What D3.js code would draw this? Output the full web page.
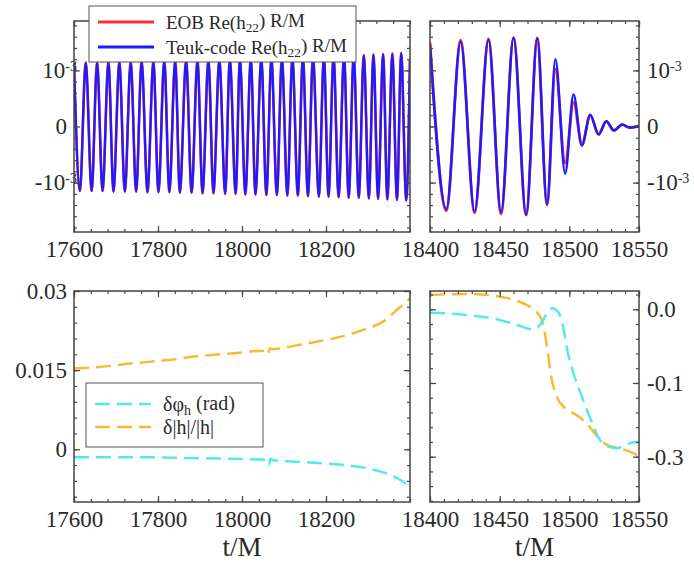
<!DOCTYPE html>
<html>
<head>
<meta charset="utf-8">
<script src="https://cdn.jsdelivr.net/npm/d3@7"></script>
<style>
body { margin: 0; background: #fff; }
svg text { font-family: "Liberation Serif", "Times New Roman", serif; fill: #2a2a2a; }
</style>
</head>
<body>
<script>
// ---- data ----
// inspiral: extrema of Re(h22) R/M, in units of 1e-3 (EOB and Teuk-code overlap here)
const inspiralT = [17600, 17614, 17628, 17642, 17655, 17668, 17682, 17694, 17708, 17721,
  17735, 17748, 17761, 17775, 17789, 17801, 17815, 17827, 17841, 17852,
  17867, 17880, 17894, 17906, 17920, 17932, 17946, 17960, 17971, 17985,
  17995, 18008, 18021, 18032, 18046, 18058, 18070, 18083, 18095, 18108,
  18120, 18133, 18145, 18157, 18169, 18183, 18195, 18206, 18218, 18230,
  18243, 18254, 18266, 18278, 18290, 18302, 18313, 18324, 18336, 18346,
  18358, 18369, 18379, 18391, 18400];
const inspiralH = [1.13, -1.15, 1.14, -1.15, 1.14, -1.15, 1.15, -1.16, 1.15, -1.16,
  1.15, -1.16, 1.16, -1.17, 1.16, -1.17, 1.17, -1.17, 1.17, -1.18,
  1.18, -1.18, 1.18, -1.19, 1.19, -1.19, 1.19, -1.20, 1.20, -1.20,
  1.20, -1.21, 1.21, -1.21, 1.21, -1.22, 1.22, -1.22, 1.22, -1.23,
  1.23, -1.23, 1.24, -1.24, 1.24, -1.25, 1.25, -1.25, 1.26, -1.26,
  1.26, -1.27, 1.27, -1.27, 1.27, -1.28, 1.28, -1.29, 1.29, -1.30,
  1.30, -1.31, 1.31, -1.32, 1.20];

// merger-ringdown extrema, units of 1e-3
const mergerT = [18400, 18411.7, 18422, 18432, 18442, 18451, 18460, 18469, 18477, 18484,
  18490, 18497, 18503, 18509, 18515, 18521, 18526.5, 18532, 18538, 18543, 18550];
const mergerEOB = [1.50, -1.50, 1.54, -1.54, 1.56, -1.56, 1.58, -1.58, 1.58, -1.39,
  1.02, -0.65, 0.43, -0.32, 0.20, -0.14, 0.09, -0.07, 0.035, -0.02, 0.01];
const mergerTeuk = [1.46, -1.47, 1.51, -1.51, 1.54, -1.53, 1.58, -1.57, 1.57, -1.39,
  1.20, -0.84, 0.57, -0.34, 0.21, -0.14, 0.095, -0.07, 0.036, -0.02, 0.01];

// phase and amplitude differences, inspiral
const ampDiffT = [17600, 17662, 17741, 17821, 17900, 17979, 18058, 18062, 18066, 18072,
  18138, 18217, 18257, 18297, 18336, 18360, 18400];
const ampDiff = [0.0153, 0.0156, 0.0163, 0.0169, 0.0177, 0.0182, 0.0187, 0.0181, 0.0191, 0.0190,
  0.0198, 0.0210, 0.0218, 0.0229, 0.0242, 0.0258, 0.0286];
const phaseDiffT = [17600, 17741, 17900, 18059, 18064, 18068, 18075, 18138, 18217, 18297, 18360, 18400];
const phaseDiff = [-0.0015, -0.0015, -0.0017, -0.0020, -0.0030, -0.0018, -0.0021, -0.0024,
  -0.0028, -0.0036, -0.0051, -0.0070];

// phase and amplitude differences, merger-ringdown
const ampDiffMT = [18400, 18426, 18450, 18462, 18474, 18479, 18482, 18484, 18487, 18491,
  18497, 18505, 18512.5, 18520, 18527, 18536, 18543.5, 18550];
const ampDiffM = [0.0194, 0.0208, 0.0171, 0.0117, 0.0, -0.0100, -0.028, -0.0507, -0.0914, -0.1186,
  -0.1343, -0.1434, -0.1547, -0.1728, -0.1841, -0.1886, -0.1932, -0.199];
const phaseDiffMT = [18400, 18426, 18450, 18464.6, 18473, 18479, 18484, 18488, 18492, 18495.7,
  18499, 18503, 18509, 18516, 18522, 18528, 18534, 18538.7, 18544.8, 18550];
const phaseDiffM = [-0.0046, -0.0077, -0.0145, -0.0227, -0.0271, -0.0213, -0.0054, 0.0014, -0.0033, -0.0258,
  -0.0597, -0.0868, -0.1186, -0.1525, -0.1773, -0.1864, -0.1886, -0.1855, -0.181, -0.1796];

// ticks and labels
const inspiralTicks = [17600, 17800, 18000, 18200];
const inspiralTickLabels = ['17600', '17800', '18000', '18200'];
const mergerTicks = [18400, 18450, 18500, 18550];
const mergerTickLabels = ['18400', '18450', '18500', '18550'];
const hTicks = [-1, 0, 1];
const hTickLabels = ['-10^-3', '0', '10^-3'];
const diffTicks = [0, 0.015, 0.03];
const diffTickLabels = ['0', '0.015', '0.03'];
const diffMTicks = [0, -0.1, -0.2];
const diffMTickLabels = ['0.0', '-0.1', '-0.3'];

const RED = '#ff3030', BLUE = '#1c1cff', CYAN = '#55e8f0', ORANGE = '#f4bc33';
const SERIF = '"Liberation Serif", "Times New Roman", serif';

const svg = d3.select('body').append('svg').attr('width', 694).attr('height', 562);
let clipCount = 0;

function makePanel(box, xDomain, yDomain) {
    const x = d3.scaleLinear().domain(xDomain).range([box.left, box.right]);
    const y = d3.scaleLinear().domain(yDomain).range([box.bottom, box.top]);
    const id = 'clip' + (clipCount++);
    svg.append('clipPath').attr('id', id).append('rect')
        .attr('x', box.left).attr('y', box.top)
        .attr('width', box.right - box.left).attr('height', box.bottom - box.top);
    const plot = svg.append('g').attr('clip-path', `url(#${id})`);
    return { x, y, box, plot };
}

function axis(gen, tr, values, size, labels, pad) {
    gen.tickValues(values).tickSize(-size).tickPadding(pad || 0)
        .tickFormat(labels ? (d, i) => labels[i] : () => '');
    const g = svg.append('g').attr('transform', tr).call(gen);
    g.select('.domain').remove();
    g.attr('font-family', SERIF).attr('font-size', 23).attr('color', '#444');
    g.selectAll('.tick line').attr('stroke-width', 1.2);
    g.selectAll('.tick text').attr('fill', '#2a2a2a')
        .style('font-family', SERIF).style('font-size', '23px');
    return g;
}

// superscripts like 10^-3
function supLabels(g, labels, side) {
    g.selectAll('.tick text').each(function (d, i) {
        const parts = labels[i].split('^');
        const t = d3.select(this).text('');
        t.append('tspan').text(parts[0]);
        if (parts.length > 1) {
            t.append('tspan').attr('dy', '-0.55em').style('font-size', '14px').text(parts[1]);
            if (side === 'left') t.attr('x', 3);
        }
    });
}

function drawAxes(p, o) {
    const { x, y, box } = p;
    const xd = x.domain(), yd = y.domain();
    const xMinor = d3.range(xd[0], xd[1] + 1e-9, o.xMinor);
    const yMinor = d3.range(Math.ceil(yd[0] / o.yMinor - 1e-6) * o.yMinor, yd[1] + 1e-12, o.yMinor);

    axis(d3.axisBottom(x), `translate(0,${box.bottom})`, xMinor, 3);
    axis(d3.axisTop(x), `translate(0,${box.top})`, xMinor, 3);
    axis(d3.axisLeft(y), `translate(${box.left},0)`, yMinor, 3);
    axis(d3.axisRight(y), `translate(${box.right},0)`, yMinor, 3);

    axis(d3.axisBottom(x), `translate(0,${box.bottom})`, o.xTicks, 6, o.xLabels, 9);
    axis(d3.axisTop(x), `translate(0,${box.top})`, o.xTicks, 6);
    const gl = axis(d3.axisLeft(y), `translate(${box.left},0)`, o.yTicks, 6,
        o.ySide === 'left' ? o.yLabels : null, 7);
    const gr = axis(d3.axisRight(y), `translate(${box.right},0)`, o.yTicks, 6,
        o.ySide === 'right' ? o.yLabels : null, 8);
    if (o.ySide === 'left') supLabels(gl, o.yLabels, 'left');
    else supLabels(gr, o.yLabels, 'right');

    svg.append('rect')
        .attr('x', box.left).attr('y', box.top)
        .attr('width', box.right - box.left).attr('height', box.bottom - box.top)
        .attr('fill', 'none').attr('stroke', '#444').attr('stroke-width', 1.5);

    if (o.xTitle) {
        svg.append('text')
            .attr('x', (box.left + box.right) / 2).attr('y', 556)
            .attr('text-anchor', 'middle').style('font-size', '27px')
            .text(o.xTitle);
    }
}

function curve(p, xs, ys, color, width, dash) {
    const line = d3.line()
        .x((d, i) => p.x(xs[i]))
        .y(d => p.y(d))
        .curve(d3.curveMonotoneX);
    p.plot.append('path')
        .datum(ys)
        .attr('d', line)
        .attr('fill', 'none')
        .attr('stroke', color)
        .attr('stroke-width', width)
        .attr('stroke-dasharray', dash || null);
}

// ---- panels ----
const tl = makePanel({ left: 74, right: 410, top: 21, bottom: 232 }, [17600, 18400], [-1.88, 1.88]);
const tr = makePanel({ left: 430, right: 639, top: 21, bottom: 232 }, [18400, 18550], [-1.88, 1.88]);
const bl = makePanel({ left: 74, right: 410, top: 291, bottom: 502 }, [17600, 18400], [-0.01, 0.03]);
const br = makePanel({ left: 430, right: 639, top: 291, bottom: 502 }, [18400, 18550], [-0.2615, 0.0248]);

curve(tl, inspiralT, inspiralH, RED, 2.6);
curve(tl, inspiralT, inspiralH, BLUE, 2.3);
curve(tr, mergerT, mergerEOB, RED, 2.8);
curve(tr, mergerT, mergerTeuk, BLUE, 2.5);

const DASH = '15,7';
curve(bl, ampDiffT, ampDiff, ORANGE, 2.5, DASH);
curve(bl, phaseDiffT, phaseDiff, CYAN, 2.5, DASH);
curve(br, ampDiffMT, ampDiffM, ORANGE, 2.5, DASH);
curve(br, phaseDiffMT, phaseDiffM, CYAN, 2.5, DASH);

drawAxes(tl, { xTicks: inspiralTicks, xLabels: inspiralTickLabels, xMinor: 40,
    yTicks: hTicks, yLabels: hTickLabels, yMinor: 0.2, ySide: 'left' });
drawAxes(tr, { xTicks: mergerTicks, xLabels: mergerTickLabels, xMinor: 10,
    yTicks: hTicks, yLabels: hTickLabels, yMinor: 0.2, ySide: 'right' });
drawAxes(bl, { xTicks: inspiralTicks, xLabels: inspiralTickLabels, xMinor: 40,
    yTicks: diffTicks, yLabels: diffTickLabels, yMinor: 0.003, ySide: 'left', xTitle: 't/M' });
drawAxes(br, { xTicks: mergerTicks, xLabels: mergerTickLabels, xMinor: 10,
    yTicks: diffMTicks, yLabels: diffMTickLabels, yMinor: 0.02, ySide: 'right', xTitle: 't/M' });

// ---- legends ----
function legend(box, items, fontSize) {
    const g = svg.append('g');
    g.append('rect')
        .attr('x', box.x).attr('y', box.y).attr('width', box.w).attr('height', box.h)
        .attr('fill', '#fff').attr('stroke', '#555').attr('stroke-width', 1);
    items.forEach((it, i) => {
        const yy = box.y + box.first + i * box.step;
        g.append('line')
            .attr('x1', box.x + 9).attr('x2', box.x + 65).attr('y1', yy).attr('y2', yy)
            .attr('stroke', it.color).attr('stroke-width', it.width)
            .attr('stroke-dasharray', it.dash || null);
        const t = g.append('text').attr('x', box.x + 77).attr('y', yy).attr('dy', '0.35em')
            .style('font-size', fontSize + 'px');
        it.text.forEach(seg => {
            const s = t.append('tspan').text(seg.s);
            if (seg.sub) s.attr('dy', '0.25em').style('font-size', (fontSize * 0.7) + 'px');
            if (seg.up) s.attr('dy', '-0.25em');
        });
    });
}

legend({ x: 89, y: 6, w: 267, h: 56, first: 16, step: 25 }, [
    { color: RED, width: 3, text: [{ s: 'EOB Re(h' }, { s: '22', sub: true }, { s: ') R/M', up: true }] },
    { color: BLUE, width: 3, text: [{ s: 'Teuk-code Re(h' }, { s: '22', sub: true }, { s: ') R/M', up: true }] }
], 19);

legend({ x: 86, y: 383, w: 177, h: 64, first: 21, step: 23 }, [
    { color: CYAN, width: 2.5, dash: DASH, text: [{ s: 'δφ' }, { s: 'h', sub: true }, { s: ' (rad)', up: true }] },
    { color: ORANGE, width: 2.5, dash: DASH, text: [{ s: 'δ|h|/|h|' }] }
], 20);
</script>
</body>
</html>
